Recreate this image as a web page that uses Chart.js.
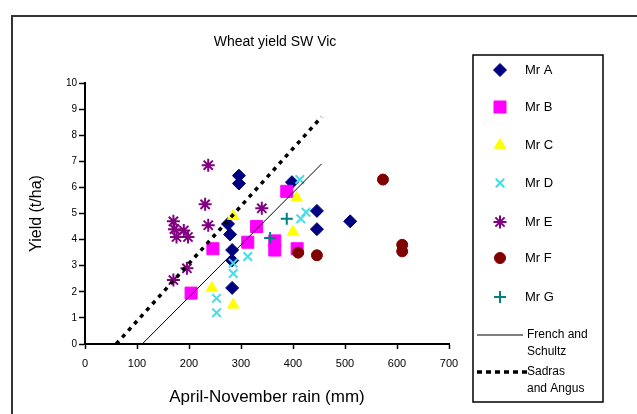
<!DOCTYPE html>
<html><head><meta charset="utf-8">
<style>
html,body{margin:0;padding:0;background:#fff;overflow:hidden;}
#wrap{position:relative;width:637px;height:414px;}
#frame{position:absolute;left:11px;top:15px;width:700px;height:500px;border:2px solid #333;box-sizing:border-box;pointer-events:none;}
canvas{position:absolute;left:0;top:0;}
</style>
<script src="https://cdn.jsdelivr.net/npm/chart.js@4"></script>
</head><body>
<div id="wrap"><canvas id="c" width="637" height="414"></canvas><div id="frame"></div></div>
<script>
const chartTitle = 'Wheat yield SW Vic';
const xTitle = 'April-November rain (mm)';
const yTitle = 'Yield (t/ha)';
const xTicks = [0,100,200,300,400,500,600,700];
const yTicks = [0,1,2,3,4,5,6,7,8,9,10];
const seriesNames = ['Mr A','Mr B','Mr C','Mr D','Mr E','Mr F','Mr G'];

const mrARain  = [296, 296, 275, 279, 283, 283, 283, 398, 446, 446, 510];
const mrAYield = [6.45,6.15,4.6, 4.2, 3.6, 3.2, 2.15,6.2, 5.1, 4.4, 4.7];
const mrBRain  = [204, 246, 313, 330, 388, 365, 365, 408];
const mrBYield = [1.95,3.65,3.9, 4.5, 5.85,3.95,3.6, 3.65];
const mrCRain  = [244, 285, 285, 407, 400];
const mrCYield = [2.15,1.5, 4.9, 5.6, 4.3];
const mrDRain  = [253, 253, 285, 285, 313, 413, 415, 425];
const mrDYield = [1.75,1.2, 2.7, 3.1, 3.35,6.3, 4.8, 5.05];
const mrERain  = [237, 231, 237, 170, 172, 176, 190, 198, 196, 170, 340];
const mrEYield = [6.85,5.35,4.55,4.7, 4.4, 4.1, 4.35,4.1, 2.9, 2.45,5.2];
const mrFRain  = [446, 410, 573, 610, 610];
const mrFYield = [3.4, 3.5, 6.3, 3.8, 3.55];
const mrGRain  = [388, 356];
const mrGYield = [4.8, 4.06];

const lineNames = ['French and Schultz','Sadras and Angus'];
const frenchRain  = [110, 455];
const frenchYield = [0, 6.9];
const sadrasRain  = [60, 455];
const sadrasYield = [0, 8.7];

const toPts = (xs, ys) => xs.map((x, i) => ({x: x, y: ys[i]}));

const markerStyles = [
  {pointStyle:'rectRot', pointRadius:6.5, backgroundColor:'#000080', borderColor:'#000080', borderWidth:1},
  {pointStyle:'rect', pointRadius:8.5, backgroundColor:'#FF00FF', borderColor:'#FF00FF', borderWidth:1},
  {pointStyle:'triangle', pointRadius:6.5, backgroundColor:'#FFFF00', borderColor:'#FFFF00', borderWidth:1},
  {pointStyle:'crossRot', pointRadius:6, backgroundColor:'#40E0E8', borderColor:'#40E0E8', borderWidth:2},
  {pointStyle:'star', pointRadius:6.5, backgroundColor:'#800080', borderColor:'#800080', borderWidth:2},
  {pointStyle:'circle', pointRadius:5.5, backgroundColor:'#800000', borderColor:'#800000', borderWidth:1},
  {pointStyle:'cross', pointRadius:6, backgroundColor:'#008080', borderColor:'#008080', borderWidth:2}
];
const seriesData = [
  toPts(mrARain, mrAYield), toPts(mrBRain, mrBYield), toPts(mrCRain, mrCYield),
  toPts(mrDRain, mrDYield), toPts(mrERain, mrEYield), toPts(mrFRain, mrFYield),
  toPts(mrGRain, mrGYield)
];

const datasets = seriesNames.map((n, i) => Object.assign({
  label: n, data: seriesData[i], showLine: false, order: 20 - i,
  pointHoverRadius: 0
}, markerStyles[i]));
datasets.push({label: lineNames[0], data: toPts(frenchRain, frenchYield), showLine: true,
  borderColor:'#000', borderWidth:1, pointRadius:0, fill:false, order: 2});
datasets.push({label: lineNames[1], data: toPts(sadrasRain, sadrasYield), showLine: true,
  borderColor:'#000', borderWidth:3.5, borderDash:[4,5], pointRadius:0, fill:false, order: 1});

const FONT = '"Liberation Sans", Arial, sans-serif';

const deco = {
  id: 'deco',
  afterDraw(chart) {
    const ctx = chart.ctx;
    ctx.save();
    ctx.fillStyle = '#000';
    ctx.font = '14px ' + FONT;
    ctx.textAlign = 'center';
    ctx.textBaseline = 'middle';
    ctx.fillText(chartTitle, 275, 42);
    // legend box
    ctx.strokeStyle = '#000';
    ctx.lineWidth = 1.5;
    ctx.strokeRect(473, 55, 130, 347);
    const ys = [70, 107, 145, 183, 222, 258, 297];
    ctx.textAlign = 'left';
    ctx.font = '13px ' + FONT;
    for (let i = 0; i < seriesNames.length; i++) {
      const ds = chart.data.datasets[i];
      ctx.save();
      ctx.fillStyle = ds.backgroundColor;
      ctx.strokeStyle = ds.borderColor;
      ctx.lineWidth = ds.borderWidth;
      Chart.helpers.drawPoint(ctx, {pointStyle: ds.pointStyle, radius: ds.pointRadius, borderWidth: ds.borderWidth, rotation: 0}, 500, ys[i]);
      ctx.restore();
      ctx.fillStyle = '#000';
      ctx.fillText(seriesNames[i], 525, ys[i]);
    }
    // line legends
    ctx.strokeStyle = '#000';
    ctx.lineWidth = 1;
    ctx.beginPath(); ctx.moveTo(477, 335); ctx.lineTo(523, 335); ctx.stroke();
    ctx.lineWidth = 3.5;
    ctx.setLineDash([5, 4]);
    ctx.beginPath(); ctx.moveTo(477, 372); ctx.lineTo(527, 372); ctx.stroke();
    ctx.setLineDash([]);
    ctx.font = '12px ' + FONT;
    ctx.fillText('French and', 527, 335);
    ctx.fillText('Schultz', 527, 352);
    ctx.fillText('Sadras', 527, 372);
    ctx.fillText('and Angus', 527, 389);
    ctx.restore();
  }
};

new Chart(document.getElementById('c'), {
  type: 'scatter',
  data: { datasets: datasets },
  options: {
    responsive: false,
    animation: false,
    events: [],
    layout: { padding: { left: 27, top: 83, right: 188, bottom: 6 } },
    plugins: { legend: { display: false }, tooltip: { enabled: false }, title: { display: false } },
    scales: {
      x: {
        type: 'linear', min: 0, max: 700,
        afterBuildTicks: s => { s.ticks = xTicks.map(v => ({value: v})); },
        afterFit: s => { s.height = 64; },
        ticks: { color:'#000', font: { size: 11, family: FONT }, padding: 8, maxRotation: 0 },
        grid: { drawOnChartArea: false, drawTicks: true, tickLength: 5, tickColor: '#000', tickWidth: 1.5 },
        border: { display: true, color: '#000', width: 2 },
        title: { display: true, text: xTitle, color: '#000', font: { size: 17, family: FONT }, padding: 0 }
      },
      y: {
        type: 'linear', min: 0, max: 10,
        afterBuildTicks: s => { s.ticks = yTicks.map(v => ({value: v})); },
        afterFit: s => { s.width = 58; },
        ticks: { color:'#000', font: { size: 10, family: FONT }, padding: 2 },
        grid: { drawOnChartArea: false, drawTicks: true, tickLength: 6, tickColor: '#000', tickWidth: 1.5 },
        border: { display: true, color: '#000', width: 2 },
        title: { display: true, text: yTitle, color: '#000', font: { size: 16, family: FONT }, padding: 0 }
      }
    }
  },
  plugins: [deco]
});
</script>
</body></html>
